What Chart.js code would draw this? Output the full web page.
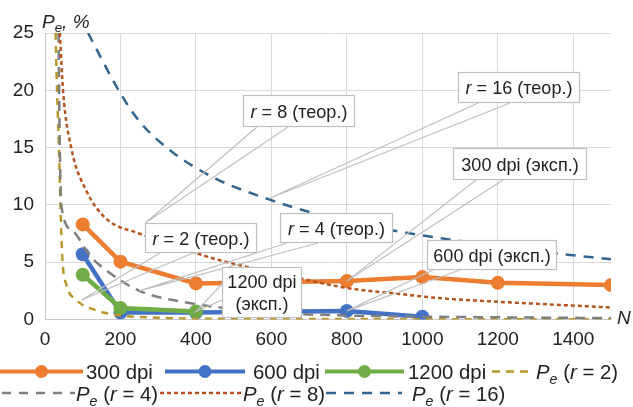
<!DOCTYPE html>
<html lang="ru">
<head>
<meta charset="UTF-8">
<title>Pe(N)</title>
<script src="https://cdn.jsdelivr.net/npm/chart.js"></script>
<style>
  body { margin: 0; background: #fff; }
  canvas { display: block; }
</style>
</head>
<body>
<canvas id="chart" width="633" height="407"></canvas>
<script>
// experimental series (N, Pe %)
const n300 = [100, 200, 400, 800, 1000, 1200, 1500];
const pe300 = [8.3, 5.05, 3.15, 3.35, 3.7, 3.2, 3.0];
const n600 = [100, 200, 400, 800, 1000];
const pe600 = [5.7, 0.6, 0.6, 0.75, 0.25];
const n1200 = [100, 200, 400];
const pe1200 = [3.9, 1.0, 0.7];

// theoretical curves
const nR2 = [28, 32, 37, 41, 46, 57, 83, 127, 189, 300, 500, 1000, 1500];
const peR2 = [25, 19.9, 14.9, 9.8, 5.3, 3.0, 1.7, 0.9, 0.4, 0.15, 0.06, 0.03, 0.02];
const nR4 = [36, 38, 41, 44, 75, 118, 162, 250, 364, 600, 800, 1000, 1500];
const peR4 = [25, 18, 12, 9.75, 7.7, 5.6, 4.3, 2.5, 1.55, 0.6, 0.35, 0.25, 0.12];
const nR8 = [39.5, 48, 70, 110, 162, 250, 400, 460, 675, 800, 934, 1050, 1200, 1500];
const peR8 = [25, 19.9, 14.9, 11.2, 8.8, 7.5, 5.8, 5.2, 3.6, 2.75, 2.25, 1.85, 1.55, 1.05];
const nR16 = [114, 197, 250, 338, 452, 592, 732, 934, 1347, 1500];
const peR16 = [25, 19.9, 17.3, 14.6, 12.3, 10.5, 9.1, 7.7, 5.8, 5.25];

const xTicks = [0, 200, 400, 600, 800, 1000, 1200, 1400];

const FONT = "'Liberation Sans', Arial, sans-serif";
const TEXT = '#222';

function pts(xs, ys) {
    return xs.map((x, i) => ({ x: x, y: ys[i] }));
}

function expSet(label, xs, ys, color, order) {
    return {
        label: label, data: pts(xs, ys), borderColor: color, backgroundColor: color,
        borderWidth: 4.5, pointRadius: 7, pointHoverRadius: 7, pointBorderWidth: 0, order: order
    };
}

function theorSet(label, xs, ys, color, dash, order) {
    return {
        label: label, data: pts(xs, ys), borderColor: color, borderWidth: 2.5,
        borderDash: dash, pointRadius: 0, cubicInterpolationMode: 'monotone', order: order
    };
}

// callouts: box in px, wedge base in px, tip in data units
const callouts = [
    { box: [243, 95, 355, 127], base: [[257, 127], [288, 127]], tip: [265, 8.4], lines: [[['r', 1], [' = 8 (теор.)', 0]]] },
    { box: [458, 72, 580, 103], base: [[478, 103], [510, 103]], tip: [597, 10.6], lines: [[['r', 1], [' = 16 (теор.)', 0]]] },
    { box: [453, 148, 587, 180], base: [[476, 180], [503, 180]], tip: [800, 3.35], lines: [[['300 dpi (эксп.)', 0]]] },
    { box: [280, 213, 393, 243], base: [[287, 243], [318, 243]], tip: [250, 2.5], lines: [[['r', 1], [' = 4 (теор.)', 0]]] },
    { box: [145, 223, 257, 253], base: [[160, 253], [193, 253]], tip: [97, 1.7], lines: [[['r', 1], [' = 2 (теор.)', 0]]] },
    { box: [427, 240, 557, 270], base: [[433, 270], [460, 270]], tip: [800, 0.75], lines: [[['600 dpi (эксп.)', 0]]] },
    { box: [222, 267, 302, 318], base: [[222, 284], [222, 300]], tip: [400, 0.7], lines: [[['1200 dpi', 0]], [['(эксп.)', 0]]] }
];

// segments are [text, italic, subscript]; sx squeezes the text horizontally
function richWidth(ctx, segs, size, sx) {
    let w = 0;
    segs.forEach(s => {
        const sz = s[2] ? size * 0.7 : size;
        ctx.font = (s[1] ? 'italic ' : '') + sz + 'px ' + FONT;
        w += ctx.measureText(s[0]).width;
    });
    return w * (sx || 1);
}

function drawRich(ctx, segs, x, y, size, sx) {
    sx = sx || 1;
    ctx.save();
    ctx.translate(x, y);
    ctx.scale(sx, 1);
    let cx = 0;
    segs.forEach(s => {
        const sz = s[2] ? size * 0.7 : size;
        ctx.font = (s[1] ? 'italic ' : '') + sz + 'px ' + FONT;
        ctx.fillText(s[0], cx, s[2] ? size * 0.22 : 0);
        cx += ctx.measureText(s[0]).width;
    });
    ctx.restore();
}

function sample(ctx, x1, x2, y, color, width, dash, dot) {
    ctx.save();
    ctx.strokeStyle = color;
    ctx.lineWidth = width;
    ctx.setLineDash(dash);
    ctx.beginPath();
    ctx.moveTo(x1, y);
    ctx.lineTo(x2, y);
    ctx.stroke();
    if (dot) {
        ctx.fillStyle = color;
        ctx.beginPath();
        ctx.arc((x1 + x2) / 2, y, 6.5, 0, Math.PI * 2);
        ctx.fill();
    }
    ctx.restore();
}

const Pe = [['P', 1], ['e', 1, 1]];

const overlay = {
    id: 'overlay',
    afterDatasetsDraw(chart) {
        const ctx = chart.ctx;
        const xs = chart.scales.x, ys = chart.scales.y;
        ctx.save();
        ctx.textBaseline = 'alphabetic';

        // wedges first, boxes on top
        ctx.strokeStyle = '#bfbfbf';
        ctx.lineWidth = 1.2;
        callouts.forEach(c => {
            const tx = xs.getPixelForValue(c.tip[0]);
            const ty = ys.getPixelForValue(c.tip[1]);
            ctx.beginPath();
            ctx.moveTo(c.base[0][0], c.base[0][1]);
            ctx.lineTo(tx, ty);
            ctx.lineTo(c.base[1][0], c.base[1][1]);
            ctx.stroke();
        });
        callouts.forEach(c => {
            const [x1, y1, x2, y2] = c.box;
            ctx.fillStyle = '#fff';
            ctx.fillRect(x1, y1, x2 - x1, y2 - y1);
            ctx.strokeStyle = '#bfbfbf';
            ctx.strokeRect(x1 + 0.5, y1 + 0.5, x2 - x1 - 1, y2 - y1 - 1);
            ctx.fillStyle = TEXT;
            const lh = 22;
            const top = (y1 + y2) / 2 - (c.lines.length * lh) / 2;
            c.lines.forEach((segs, i) => {
                const w = richWidth(ctx, segs, 19, 0.95);
                drawRich(ctx, segs, (x1 + x2) / 2 - w / 2, top + i * lh + 17.5, 19, 0.95);
            });
        });

        // axis titles
        ctx.fillStyle = TEXT;
        drawRich(ctx, [['P', 1], ['e', 1, 1], [', %', 1]], 42, 28, 19);
        drawRich(ctx, [['N', 1]], 617, 324, 19);

        // legend
        const r1 = 379, r2 = 401, L = 21, S = 0.97;
        sample(ctx, 0, 83, r1 - 7.5, '#ed7d31', 4, [], true);
        drawRich(ctx, [['300 dpi', 0]], 86, r1, L, S);
        sample(ctx, 165, 245, r1 - 7.5, '#4472c4', 4, [], true);
        drawRich(ctx, [['600 dpi', 0]], 253, r1, L, S);
        sample(ctx, 325, 404, r1 - 7.5, '#70ad47', 4, [], true);
        drawRich(ctx, [['1200 dpi', 0]], 408, r1, L, S);
        sample(ctx, 492, 528, r1 - 7.5, '#b8982a', 2.5, [8, 6], false);
        drawRich(ctx, Pe.concat([[' (', 0], ['r', 1], [' = 2)', 0]]), 536, r1, L, S);

        sample(ctx, 2, 75, r2 - 8, '#7f7f7f', 2.5, [9, 8], false);
        drawRich(ctx, Pe.concat([[' (', 0], ['r', 1], [' = 4)', 0]]), 76, r2, L, S);
        sample(ctx, 160, 242, r2 - 8, '#b5541e', 2.5, [4, 3], false);
        drawRich(ctx, Pe.concat([[' (', 0], ['r', 1], [' = 8)', 0]]), 243, r2, L, S);
        sample(ctx, 326, 402, r2 - 8, '#33658f', 2.5, [10, 8], false);
        drawRich(ctx, Pe.concat([[' (', 0], ['r', 1], [' = 16)', 0]]), 412, r2, L, S);

        ctx.restore();
    }
};

new Chart(document.getElementById('chart'), {
    type: 'line',
    data: {
        datasets: [
            expSet('300 dpi', n300, pe300, '#ed7d31', 7),
            expSet('600 dpi', n600, pe600, '#4472c4', 6),
            expSet('1200 dpi', n1200, pe1200, '#70ad47', 5),
            theorSet('Pe (r = 2)', nR2, peR2, '#b8982a', [7, 6], 4),
            theorSet('Pe (r = 4)', nR4, peR4, '#7f7f7f', [10, 7], 3),
            theorSet('Pe (r = 8)', nR8, peR8, '#b5541e', [4, 3], 2),
            theorSet('Pe (r = 16)', nR16, peR16, '#33658f', [10, 8], 1)
        ]
    },
    options: {
        responsive: false,
        animation: false,
        layout: { padding: { left: 0, top: 33, right: 22, bottom: 0 } },
        plugins: { legend: { display: false }, tooltip: { enabled: false } },
        scales: {
            x: {
                type: 'linear', min: 0, max: 1500,
                afterBuildTicks: axis => { axis.ticks = xTicks.map(v => ({ value: v })); },
                afterFit: s => { s.height = 87.5; },
                ticks: { color: TEXT, padding: 9, font: { family: FONT, size: 19 }, callback: v => String(v) },
                grid: { color: '#d9d9d9', drawTicks: false },
                border: { color: '#c8c8c8' }
            },
            y: {
                min: 0, max: 25,
                afterFit: s => { s.width = 45; },
                ticks: { stepSize: 5, color: TEXT, padding: 11, font: { family: FONT, size: 19 } },
                grid: { color: '#d9d9d9', drawTicks: false },
                border: { color: '#c8c8c8' }
            }
        }
    },
    plugins: [overlay]
});
</script>
</body>
</html>
